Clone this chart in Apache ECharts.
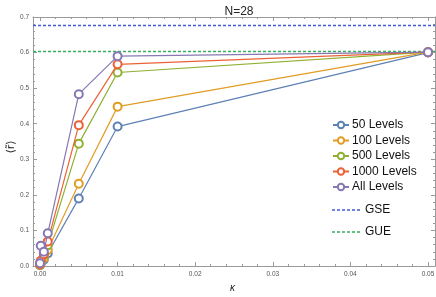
<!DOCTYPE html>
<html>
<head>
<meta charset="utf-8">
<script src="https://cdn.jsdelivr.net/npm/echarts@6/dist/echarts.min.js"></script>
<style>html,body{margin:0;padding:0;background:#fff}#c{width:436px;height:297px}</style>
</head>
<body>
<div id="c"></div>
<script>
var kappa = [0, 0.0001, 0.0005, 0.001, 0.005, 0.01, 0.05];
var seriesNames = ['50 Levels', '100 Levels', '500 Levels', '1000 Levels', 'All Levels'];
var levels50   = [0.002, 0.008, 0.018, 0.035, 0.190, 0.392, 0.600];
var levels100  = [0.003, 0.010, 0.022, 0.045, 0.231, 0.448, 0.601];
var levels500  = [0.004, 0.012, 0.030, 0.058, 0.344, 0.544, 0.601];
var levels1000 = [0.005, 0.015, 0.033, 0.069, 0.396, 0.567, 0.601];
var levelsAll  = [0.008, 0.057, 0.040, 0.092, 0.483, 0.590, 0.601];
var gseValue = 0.6762;
var gueValue = 0.6027;
var xTickLabels = [0, 0.01, 0.02, 0.03, 0.04, 0.05];
var yTickLabels = [0, 0.1, 0.2, 0.3, 0.4, 0.5, 0.6, 0.7];

var colors = ['#5E81B5', '#E19C24', '#8FB032', '#EB6235', '#8778B3'];
var xMin = -0.0009, xMax = 0.0509;
var minorX = [];
for (var i = 0; i <= 25; i++) { var v = +(i * 0.002).toFixed(3); if (i % 5 !== 0) minorX.push(v); }

function pairs(ys) { return kappa.map(function (k, i) { return [k, ys[i]]; }); }
var allSeries = [levels50, levels100, levels500, levels1000, levelsAll];

var series = allSeries.map(function (ys, i) {
  return {
    name: seriesNames[i], type: 'line', data: pairs(ys), xAxisIndex: 0, yAxisIndex: 0,
    symbol: 'emptyCircle', symbolSize: 8,
    lineStyle: { width: 1.2, color: colors[i] },
    itemStyle: { color: colors[i], borderColor: colors[i], borderWidth: 1.5 },
    z: 3 + i, animation: false
  };
});
var gseColor = '#3f5ad8', gueColor = '#35b060';
series.push({
  name: 'GSE', type: 'line', data: [[xMin, gseValue], [xMax, gseValue]], symbol: 'none',
  itemStyle: { color: gseColor },
  lineStyle: { width: 1.5, type: [3, 2], color: gseColor }, animation: false, z: 2
});
series.push({
  name: 'GUE', type: 'line', data: [[xMin, gueValue], [xMax, gueValue]], symbol: 'none',
  itemStyle: { color: gueColor },
  lineStyle: { width: 1.5, type: [3, 2], color: gueColor }, animation: false, z: 2
});

var axisColor = '#9a9a9a';
var labelStyle = { fontFamily: 'Liberation Sans', fontSize: 6.5, color: '#555' };
function xAx(pos, major, labels) {
  return {
    type: 'value', position: pos, min: xMin, max: xMax,
    axisLine: { show: major, onZero: false, lineStyle: { color: axisColor, width: 1 } },
    axisTick: { show: true, inside: true, length: major ? 4 : 2, customValues: major ? xTickLabels : minorX, lineStyle: { color: axisColor } },
    axisLabel: labels ? Object.assign({ show: true, margin: 5, customValues: xTickLabels, formatter: function (v) { return v.toFixed(2); } }, labelStyle) : { show: false },
    splitLine: { show: false }
  };
}
function yAx(pos, labels) {
  return {
    type: 'value', position: pos, min: 0, max: 0.7, interval: 0.1,
    axisLine: { show: true, onZero: false, lineStyle: { color: axisColor, width: 1 } },
    axisTick: { show: true, inside: true, length: 4, lineStyle: { color: axisColor } },
    minorTick: { show: true, splitNumber: 5, length: 2, lineStyle: { color: axisColor } },
    axisLabel: labels ? Object.assign({ show: true, margin: 4, formatter: function (v) { return v.toFixed(1); } }, labelStyle) : { show: false },
    splitLine: { show: false }
  };
}
var dashPath = 'path://M0,0h3v1.3h-3zM5,0h3v1.3h-3zM10,0h3v1.3h-3zM15,0h3v1.3h-3zM20,0h3v1.3h-3zM25,0h3v1.3h-3z';

var chart = echarts.init(document.getElementById('c'), null, { renderer: 'canvas' });
chart.setOption({
  animation: false,
  backgroundColor: '#fff',
  title: { text: 'N=28', left: 234, top: 1, textAlign: 'center',
    textStyle: { fontFamily: 'Liberation Sans', fontSize: 12, fontWeight: 'normal', color: '#222' } },
  grid: { left: 33, right: 1, top: 17, bottom: 31, containLabel: false, outerBoundsMode: 'none' },
  xAxis: [xAx('bottom', true, true), xAx('bottom', false, false), xAx('top', true, false), xAx('top', false, false)],
  yAxis: [yAx('left', true), yAx('right', false)],
  legend: [
    { data: seriesNames, orient: 'vertical', left: 332, top: 119, padding: 0, itemGap: 3.5,
      itemWidth: 16, itemHeight: 8,
      textStyle: { fontFamily: 'Liberation Sans', fontSize: 12, color: '#111', padding: [0, 0, 0, -2] } },
    { data: [{ name: 'GSE', icon: dashPath }, { name: 'GUE', icon: dashPath }], orient: 'vertical', left: 332, top: 204, padding: 0, itemGap: 10,
      itemWidth: 28, itemHeight: 10,
      textStyle: { fontFamily: 'Liberation Sans', fontSize: 12, color: '#111' } }
  ],
  graphic: [
    { type: 'text', left: 230, top: 283,
      style: { text: '\u03BA', font: 'italic 10px "Liberation Sans"', fill: '#222' } },
    { type: 'text', x: 11, y: 147, rotation: Math.PI / 2,
      style: { text: '\u27E8r\u0303\u27E9', font: '11px "DejaVu Sans"', fill: '#222', align: 'center', verticalAlign: 'middle' } }
  ],
  series: series
});
</script>
</body>
</html>
